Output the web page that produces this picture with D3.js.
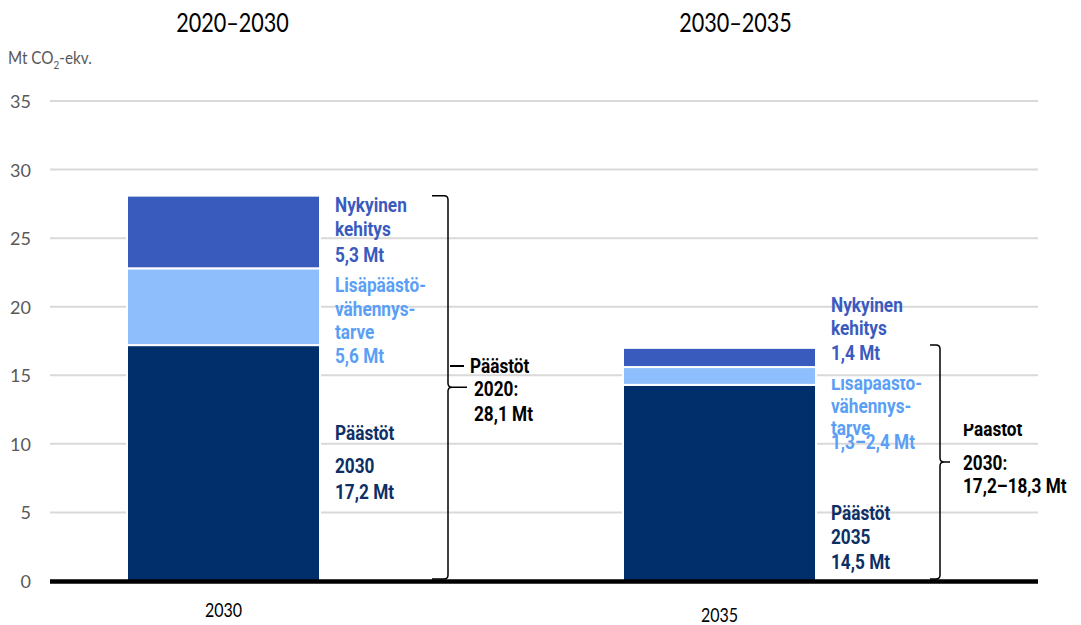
<!DOCTYPE html>
<html>
<head>
<meta charset="utf-8">
<script src="https://cdn.jsdelivr.net/npm/d3@7"></script>
<style>
  body { margin: 0; background: #fff; }
  svg { display: block; font-family: Lato, "Open Sans", sans-serif; }
</style>
</head>
<body>
<svg class="chart" width="1081" height="625"></svg>
<script>
// chart values
const categories = ['2030', '2035'];
const periodTitles = ['2020–2030', '2030–2035'];
const baseEmissions = [17.2, 14.3];
const extraReduction = [5.6, 1.3];
const currentTrend = [5.3, 1.4];
const braceTotals = [28.1, 17.2];
const yTicks = [0, 5, 10, 15, 20, 25, 30, 35];

const trendLabels = [['Nykyinen', 'kehitys', '5,3 Mt'], ['Nykyinen', 'kehitys', '1,4 Mt']];
const extraLabels = [['Lisäpäästö-', 'vähennys-', 'tarve', '5,6 Mt'], ['Lisäpäästö-', 'vähennys-', 'tarve', '1,3–2,4 Mt']];
const baseLabels = [['Päästöt', '2030', '17,2 Mt'], ['Päästöt', '2035', '14,5 Mt']];
const braceLabels = [['Päästöt', '2020:', '28,1 Mt'], ['Päästöt', '2030:', '17,2–18,3 Mt']];

const colors = { base: '#002f6b', extra: '#8fbefc', trend: '#3a5bbe' };
const textColors = { base: '#0d2f66', extra: '#5a9ff5', trend: '#3a5bbe' };

// layout
const grid = { left: 50, right: 1038 };
const y = d3.scaleLinear().domain([0, 35]).range([581, 101]);
const x = d3.scalePoint().domain(categories).range([223.5, 719.5]);
const barWidth = 193;

const svg = d3.select('.chart');
const defs = svg.append('defs');

// gridlines
svg.append('g').attr('class', 'grid')
  .selectAll('line')
  .data(yTicks.slice(1))
  .enter().append('line')
  .attr('x1', grid.left).attr('x2', grid.right)
  .attr('y1', d => y(d)).attr('y2', d => y(d))
  .attr('stroke', '#d9d9d9').attr('stroke-width', 2);

// y tick labels
svg.append('g').attr('class', 'y-ticks')
  .selectAll('text')
  .data(yTicks)
  .enter().append('text')
  .attr('x', 31).attr('y', d => y(d) + 7)
  .attr('text-anchor', 'end')
  .attr('font-size', 18).attr('fill', '#595959')
  .text(d => d);

// unit title
const unit = svg.append('g').attr('transform', 'translate(8,0) scale(0.9,1)')
  .append('text').attr('x', 0).attr('y', 64)
  .attr('font-size', 17).attr('fill', '#595959');
unit.append('tspan').text('Mt CO');
unit.append('tspan').attr('font-size', 11).attr('dy', 5).text('2');
unit.append('tspan').attr('dy', -5).text('-ekv.');

// multi-line text, narrowed horizontally
function drawLines(lines, x0, baselines, opts) {
  const bold = !opts.regular;
  const sx = opts.squeeze || (bold ? 0.82 : 0.8);
  const g = svg.append('g')
    .attr('transform', 'translate(' + x0 + ',0) scale(' + sx + ',1)');
  if (opts.clip) g.attr('clip-path', 'url(#' + opts.clip + ')');
  const t = g.append('text')
    .attr('font-family', bold ? 'Roboto, "Open Sans", sans-serif' : null)
    .attr('font-size', opts.size || 21)
    .attr('font-weight', bold ? 'bold' : 'normal')
    .attr('text-anchor', opts.anchor || 'start')
    .attr('fill', opts.color);
  lines.forEach((line, k) => {
    const dx = opts.indent ? opts.indent[k] / sx : 0;
    t.append('tspan').attr('x', dx).attr('y', baselines[k]).text(line);
  });
  return g;
}

// period titles
const titleShift = [9, 16];
periodTitles.forEach((title, i) => {
  drawLines([title], x(categories[i]) + titleShift[i], [32],
    { size: 27, regular: true, anchor: 'middle', color: '#000' });
});

// stacked bars
const stackData = categories.map((c, i) => ({ cat: c, base: baseEmissions[i], extra: extraReduction[i], trend: currentTrend[i] }));
const series = d3.stack().keys(['base', 'extra', 'trend'])(stackData);

svg.append('g').attr('class', 'bars')
  .selectAll('g')
  .data(series)
  .enter().append('g')
  .attr('fill', s => colors[s.key])
  .selectAll('rect')
  .data(s => s)
  .enter().append('rect')
  .attr('x', d => x(d.data.cat) - barWidth / 2)
  .attr('width', barWidth)
  .attr('y', d => y(d[1]))
  .attr('height', d => y(d[0]) - y(d[1]))
  .attr('stroke', '#fff').attr('stroke-width', 2);

// baseline
svg.append('line')
  .attr('x1', grid.left).attr('x2', grid.right)
  .attr('y1', y(0) + 0.5).attr('y2', y(0) + 0.5)
  .attr('stroke', '#000').attr('stroke-width', 4.5);

// x labels
const xLabelBase = [617, 622];
categories.forEach((c, i) => {
  drawLines([c], x(c), [xLabelBase[i]],
    { size: 20, regular: true, anchor: 'middle', color: '#000' });
});

// segment labels
defs.append('clipPath').attr('id', 'clipExtra2')
  .append('rect').attr('x', -50).attr('y', 379).attr('width', 300).attr('height', 100);
defs.append('clipPath').attr('id', 'clipBrace2')
  .append('rect').attr('x', -50).attr('y', 424).attr('width', 300).attr('height', 100);

const labelX = categories.map(c => x(c) + barWidth / 2 + 15);
drawLines(trendLabels[0], labelX[0], [212, 236, 262], { color: textColors.trend });
drawLines(extraLabels[0], labelX[0], [292, 316, 339, 363], { color: textColors.extra });
drawLines(baseLabels[0], labelX[0], [440, 473, 499], { color: textColors.base });

drawLines(trendLabels[1], labelX[1], [312, 335, 360], { color: textColors.trend });
drawLines(extraLabels[1], labelX[1], [390, 413, 435, 449], { color: textColors.extra, clip: 'clipExtra2' });
drawLines(baseLabels[1], labelX[1], [520, 544, 569], { color: textColors.base });

// braces
function bracePath(xv, top, bottom, tipLen, capLen) {
  const mid = (top + bottom) / 2, r = 4;
  return 'M' + (xv - capLen) + ',' + top +
    'H' + (xv - r) + 'Q' + xv + ',' + top + ' ' + xv + ',' + (top + r) +
    'V' + (mid - r) + 'Q' + xv + ',' + mid + ' ' + (xv + r) + ',' + mid +
    'H' + (xv + tipLen) +
    'M' + (xv + r) + ',' + mid + 'Q' + xv + ',' + mid + ' ' + xv + ',' + (mid + r) +
    'V' + (bottom - r) + 'Q' + xv + ',' + bottom + ' ' + (xv - r) + ',' + bottom +
    'H' + (xv - capLen);
}

const braceX = [448, 940];
const capLens = [16, 10];
const tipLens = [19, 10];
braceX.forEach((bx, i) => {
  svg.append('path')
    .attr('d', bracePath(bx, y(braceTotals[i]), y(0) - 2, tipLens[i], capLens[i]))
    .attr('fill', 'none').attr('stroke', '#000').attr('stroke-width', 1.5);
});
// small dash before first brace label
svg.append('line')
  .attr('x1', 450).attr('x2', 464).attr('y1', 366).attr('y2', 366)
  .attr('stroke', '#000').attr('stroke-width', 2);

drawLines(braceLabels[0], 470, [373, 396, 421], { color: '#000', indent: [0, 4, 4] });
drawLines(braceLabels[1], 963, [436, 470, 493], { color: '#000', clip: 'clipBrace2', size: 20, squeeze: 0.86 });
</script>
</body>
</html>
